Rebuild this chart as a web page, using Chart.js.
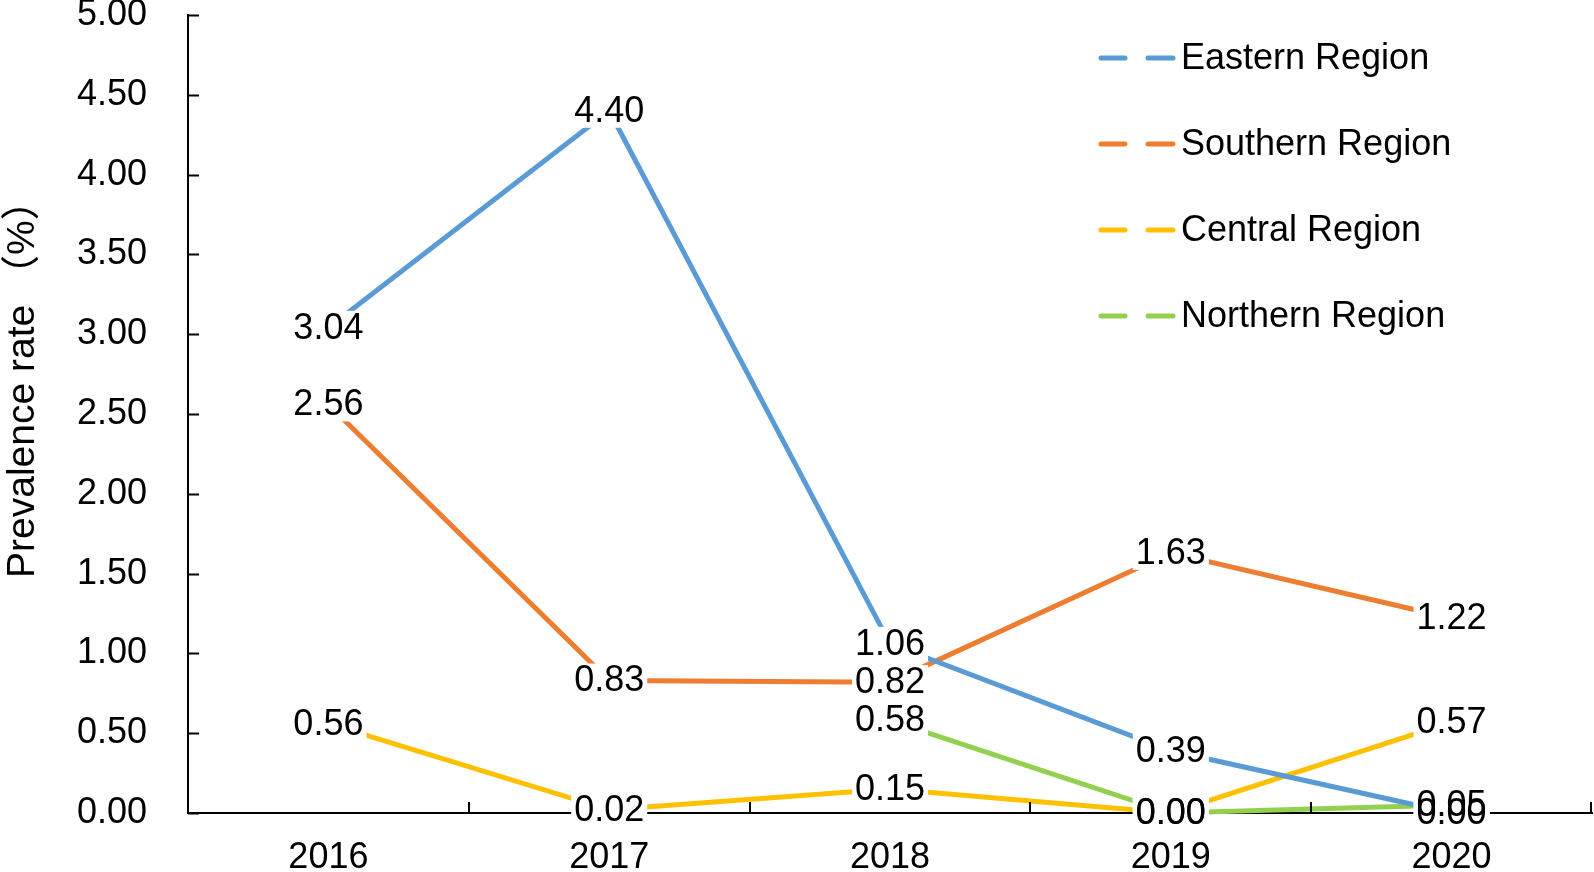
<!DOCTYPE html>
<html>
<head>
<meta charset="utf-8">
<script src="https://cdn.jsdelivr.net/npm/chart.js@4.4.0/dist/chart.umd.min.js"></script>
<style>
html, body { margin: 0; padding: 0; background: #fff; }
#wrap { width: 1594px; height: 872px; }
</style>
</head>
<body>
<div id="wrap"><canvas id="myChart"></canvas></div>
<script>
// data
var years = ['2016', '2017', '2018', '2019', '2020'];
var eastern = [3.04, 4.40, 1.06, 0.39, 0.00];
var southern = [2.56, 0.83, 0.82, 1.63, 1.22];
var central = [0.56, 0.02, 0.15, 0.00, 0.57];
var northern = [null, null, 0.58, 0.00, 0.05];
var seriesNames = ['Eastern Region', 'Southern Region', 'Central Region', 'Northern Region'];
var seriesColors = ['#5B9BD5', '#ED7D31', '#FFC000', '#92D050'];
var yMin = 0, yMax = 5, yStep = 0.5;
var yTitle = 'Prevalence rate （%）';

var FONT = '"Liberation Sans", Arial, "Noto Sans CJK SC", sans-serif';

// inward tick marks like the original (Excel style)
var innerTicks = {
    id: 'innerTicks',
    afterDraw: function (chart) {
        var ctx = chart.ctx, x = chart.scales.x, y = chart.scales.y;
        var a = chart.chartArea;
        ctx.save();
        ctx.strokeStyle = '#000';
        ctx.lineWidth = 2;
        ctx.beginPath();
        y.ticks.forEach(function (t) {
            var py = Math.round(y.getPixelForValue(t.value)) + 0.5;
            ctx.moveTo(a.left, py);
            ctx.lineTo(a.left + 11, py);
        });
        var half = (x.getPixelForValue(1) - x.getPixelForValue(0)) / 2;
        for (var i = 0; i < years.length; i++) {
            var px = Math.min(Math.round(x.getPixelForValue(i) + half), a.right - 1);
            ctx.moveTo(px, a.bottom);
            ctx.lineTo(px, a.bottom - 11);
        }
        ctx.stroke();
        ctx.restore();
    }
};

// value labels with white boxes over the lines
var valueLabels = {
    id: 'valueLabels',
    afterDatasetsDraw: function (chart) {
        var ctx = chart.ctx;
        var items = [];
        ctx.save();
        ctx.font = '36px ' + FONT;
        chart.data.datasets.forEach(function (ds, i) {
            var meta = chart.getDatasetMeta(i);
            meta.data.forEach(function (pt, j) {
                var v = ds.data[j];
                if (v === null || v === undefined) return;
                var txt = v.toFixed(2);
                items.push({ x: pt.x, y: pt.y, txt: txt, w: ctx.measureText(txt).width });
            });
        });
        ctx.fillStyle = '#fff';
        items.forEach(function (it) {
            ctx.fillRect(it.x - it.w / 2 - 3, it.y - 17, it.w + 6, 34);
        });
        ctx.fillStyle = '#000';
        ctx.textAlign = 'center';
        ctx.textBaseline = 'middle';
        items.forEach(function (it) {
            ctx.fillText(it.txt, it.x, it.y + 1);
        });
        ctx.restore();
    }
};

// legend in the top right and rotated y title
var extras = {
    id: 'extras',
    afterDraw: function (chart) {
        var ctx = chart.ctx;
        ctx.save();
        ctx.font = '36px ' + FONT;
        ctx.textBaseline = 'middle';
        ctx.textAlign = 'left';
        chart.data.datasets.forEach(function (ds, i) {
            var ly = 58 + i * 86;
            ctx.strokeStyle = ds.borderColor;
            ctx.lineWidth = 5;
            ctx.lineCap = 'round';
            ctx.beginPath();
            ctx.moveTo(1101, ly); ctx.lineTo(1125, ly);
            ctx.moveTo(1148, ly); ctx.lineTo(1173, ly);
            ctx.stroke();
            ctx.fillStyle = '#000';
            ctx.fillText(ds.label, 1181, ly + 1);
        });
        ctx.translate(34, 578);
        ctx.rotate(-Math.PI / 2);
        ctx.font = '39px ' + FONT;
        ctx.textBaseline = 'alphabetic';
        ctx.fillText(yTitle, 0, 0);
        ctx.restore();
    }
};

var seriesData = [eastern, southern, central, northern];
var datasets = seriesData.map(function (d, i) {
    return {
        label: seriesNames[i],
        data: d,
        borderColor: seriesColors[i],
        backgroundColor: seriesColors[i],
        borderWidth: 5,
        pointRadius: 0,
        tension: 0,
        clip: false
    };
});

var ctx = document.getElementById('myChart').getContext('2d');
var myChart = new Chart(ctx, {
    type: 'line',
    data: { labels: years, datasets: datasets },
    options: {
        responsive: true,
        maintainAspectRatio: false,
        animation: false,
        layout: { padding: { top: 15, right: 2, left: 0, bottom: 0 } },
        plugins: { legend: { display: false }, tooltip: { enabled: false } },
        scales: {
            x: {
                offset: true,
                grid: { display: false, drawTicks: false },
                border: { color: '#000', width: 2 },
                ticks: { color: '#000', font: { family: FONT, size: 36 }, padding: 23, maxRotation: 0 },
                afterFit: function (s) { s.height = 59; s.paddingLeft = 0; s.paddingRight = 0; }
            },
            y: {
                min: yMin,
                max: yMax,
                grid: { display: false, drawTicks: false },
                border: { color: '#000', width: 2 },
                ticks: {
                    stepSize: yStep,
                    color: '#000',
                    font: { family: FONT, size: 36 },
                    padding: 41,
                    callback: function (v) { return v.toFixed(2); }
                },
                afterFit: function (s) { s.width = 188; s.paddingTop = 0; s.paddingBottom = 0; }
            }
        }
    },
    plugins: [innerTicks, valueLabels, extras]
});
</script>
</body>
</html>
